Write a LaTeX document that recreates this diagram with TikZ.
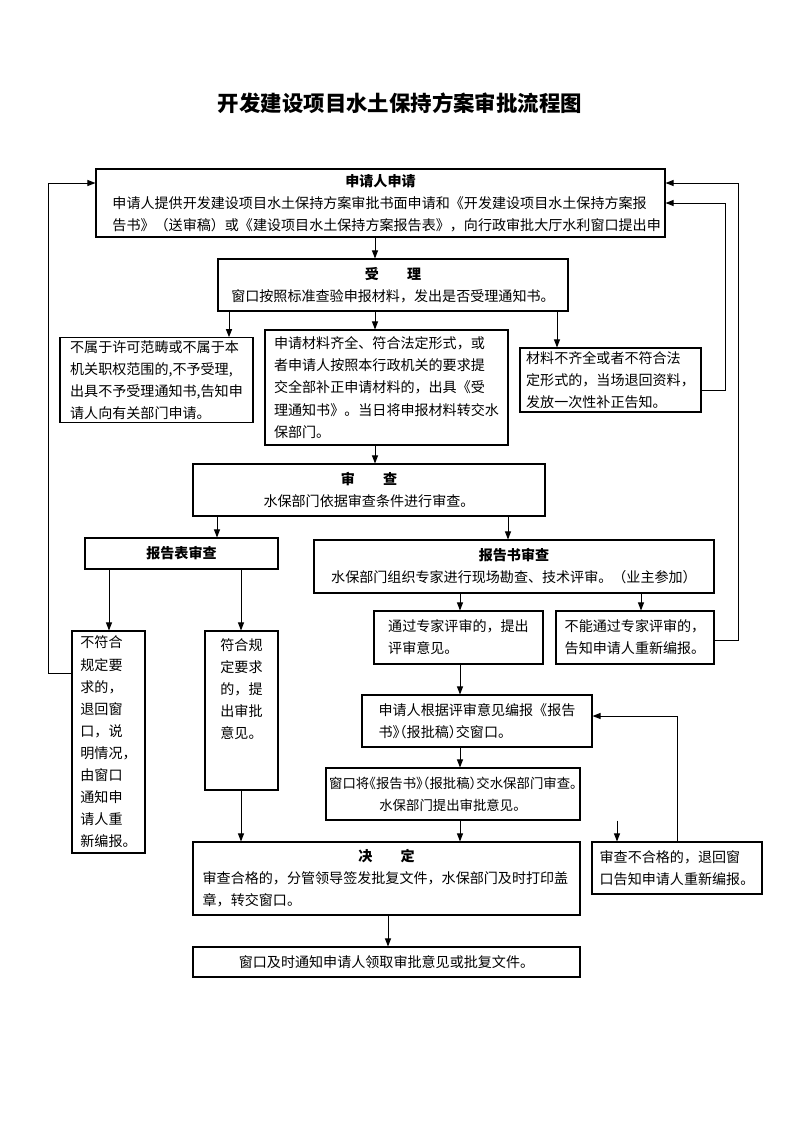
\documentclass[tikz,border=0pt]{standalone}
\usepackage{fontspec}
\setmainfont{Noto Sans CJK SC}
\usetikzlibrary{arrows.meta}
\def\pxu{0.02625cm}
\newcommand\halfp[1]{{\addfontfeatures{RawFeature=+halt}#1}}

\begin{document}
\begin{tikzpicture}[x=\pxu, y=-\pxu,
		box/.style 2 args={draw, line width=.8pt, inner sep=2pt,
			minimum width=#1*\pxu, minimum height=#2*\pxu,
			font=\fontsize{10.5}{16.5}\selectfont},
		lbox/.style 2 args={box={#1}{#2}, align=left},
		cbox/.style 2 args={box={#1}{#2}, align=center},
		heading/.style={font=\fontsize{16}{20}\selectfont\bfseries},
		link/.style={line width=.7pt},
		arr/.style={link, -{Triangle[length=6pt,width=4.5pt]}}]
	\useasboundingbox (0,0) rectangle (800,1132);
	%
	\node[heading] (head) at (400,103) {开发建设项目水土保持方案审批流程图};
	%
	\node[box={569}{68}, text width=14.07cm] (apply) at (380.5,203)
		{\centering\textbf{申请人申请}\par\raggedright
		申请人提供开发建设项目水土保持方案审批书面申请和《开发建设项目水土保持方案报\\
		告书》（送审稿）或《建设项目水土保持方案报告表》，向行政审批大厅水利窗口提出申};
	\node[cbox={350}{52}] (accept) at (393,285)
		{\textbf{受\hspace{2em}理}\\窗口按照标准查验申报材料，发出是否受理通知书。};
	\node[lbox={193}{84}] (noaccept) at (156.5,380)
		{不属于许可范畴或不属于本\\机关职权范围的,不予受理,\\出具不予受理通知书,告知申\\请人向有关部门申请。};
	\node[lbox={243}{115}] (accepted) at (386.5,387.5)
		{申请材料齐全、符合法定形式，或\\者申请人按照本行政机关的要求提\\交全部补正申请材料的，出具《受\\理通知书》。当日将申报材料转交水\\保部门。};
	\node[lbox={181}{64}] (incomplete) at (610.5,380)
		{材料不齐全或者不符合法\\定形式的，当场退回资料，\\发放一次性补正告知。};
	%
	\node[cbox={352}{52}] (review) at (369,490)
		{\textbf{审\hspace{2em}查}\\水保部门依据审查条件进行审查。};
	\node[cbox={193}{31}] (formrev) at (181.5,553.5) {\textbf{报告表审查}};
	\node[cbox={400}{53}] (bookrev) at (514,566.5)
		{\textbf{报告书审查}\\水保部门组织专家进行现场勘查、技术评审。（业主参加）};
	\node[lbox={73}{222}] (nonconform) at (108.5,742)
		{不符合\\规定要\\求的，\\退回窗\\口，说\\明情况，\\由窗口\\通知申\\请人重\\新编报。};
	\node[lbox={73}{159}] (conform) at (241.5,710.5)
		{符合规\\定要求\\的，提\\出审批\\意见。\\\mbox{}\\\mbox{}};
	\node[lbox={169}{53}] (passed) at (458.5,637.5)
		{通过专家评审的，提出\\评审意见。};
	\node[lbox={158}{53}] (failed) at (635,637.5)
		{不能通过专家评审的，\\告知申请人重新编报。};
	\node[lbox={230}{52}] (resubmit) at (477,721)
		{申请人根据评审意见编报《报告\\书\halfp{》（}报批稿\halfp{）}交窗口。};
	\node[cbox={254}{52}, font=\fontsize{10}{16.5}\selectfont] (window) at (453,794)
		{窗口将\halfp{《}报告书\halfp{》（}报批稿\halfp{）}交水保部门审查\halfp{。}\\水保部门提出审批意见。};
	\node[box={387}{73}, text width=9.65cm] (decide) at (386.5,878.5)
		{\centering\textbf{决\hspace{2em}定}\par\raggedright
		审查合格的，分管领导签发批复文件，水保部门及时打印盖\\章，转交窗口。};
	\node[lbox={170}{52}] (unqualified) at (677,868)
		{审查不合格的，退回窗\\口告知申请人重新编报。};
	\node[cbox={387}{30}] (notify) at (386.5,962)
		{窗口及时通知申请人领取审批意见或批复文件。};
	%
	\draw[arr] (apply.south -| 375,0) -- (accept.north -| 375,0);
	\draw[arr] (accept.south -| 229,0) -- (noaccept.north -| 229,0);
	\draw[arr] (accept.south -| 375,0) -- (accepted.north -| 375,0);
	\draw[arr] (accept.south -| 557,0) -- (incomplete.north -| 557,0);
	\draw[arr] (incomplete.east |- 0,390) -- (725,390) |- (apply.east |- 0,203);
	\draw[arr] (accepted.south -| 375,0) -- (review.north -| 375,0);
	\draw[arr] (review.south -| 217,0) -- (formrev.north -| 217,0);
	\draw[arr] (review.south -| 508,0) -- (bookrev.north -| 508,0);
	\draw[arr] (formrev.south -| 109,0) -- (nonconform.north -| 109,0);
	\draw[arr] (formrev.south -| 241,0) -- (conform.north -| 241,0);
	\draw[arr] (nonconform.west |- 0,673) -- (48,673) |- (apply.west |- 0,183);
	\draw[arr] (conform.south -| 241,0) -- (decide.north -| 241,0);
	\draw[arr] (bookrev.south -| 460,0) -- (passed.north -| 460,0);
	\draw[arr] (bookrev.south -| 641,0) -- (failed.north -| 641,0);
	\draw[arr] (failed.east |- 0,640) -- (738,640) |- (apply.east |- 0,183);
	\draw[arr] (passed.south -| 460,0) -- (resubmit.north -| 460,0);
	\draw[arr] (resubmit.south -| 460,0) -- (window.north -| 460,0);
	\draw[arr] (window.south -| 460,0) -- (decide.north -| 460,0);
	\draw[arr] (window.south -| 617,0) -- (unqualified.north -| 617,0);
	\draw[arr] (unqualified.north -| 677,0) |- (resubmit.east |- 0,716);
	\draw[arr] (decide.south -| 388,0) -- (notify.north -| 388,0);
\end{tikzpicture}
\end{document}
